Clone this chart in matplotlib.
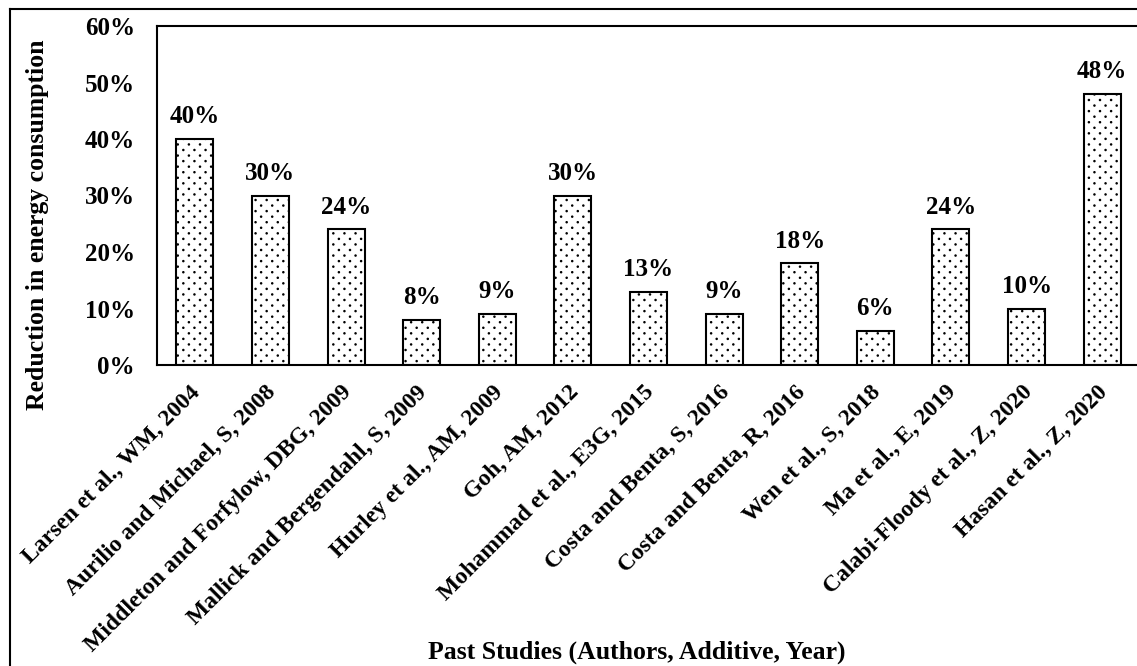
import matplotlib
matplotlib.use("Agg")
import numpy as np
import matplotlib.pyplot as plt
import matplotlib.hatch as mhatch
import matplotlib.transforms as mtransforms
from matplotlib.lines import Line2D
from matplotlib.path import Path
from matplotlib.ticker import PercentFormatter

studies = [
    "Larsen et al., WM, 2004",
    "Aurilio and Michael, S, 2008",
    "Middleton and Forfylow, DBG, 2009",
    "Mallick and Bergendahl, S, 2009",
    "Hurley et al., AM, 2009",
    "Goh, AM, 2012",
    "Mohammad et al., E3G, 2015",
    "Costa and Benta, S, 2016",
    "Costa and Benta, R, 2016",
    "Wen et al., S, 2018",
    "Ma et al., E, 2019",
    "Calabi-Floody et al., Z, 2020",
    "Hasan et al., Z, 2020",
]
reduction = [40, 30, 24, 8, 9, 30, 13, 9, 18, 6, 24, 10, 48]
y_ticks = [0, 10, 20, 30, 40, 50, 60]


class StaggeredDots(mhatch.HatchPatternBase):
    """Small filled dots on a staggered grid (used for the '.' hatch)."""
    rows = 18
    cols = 9
    radius = 0.0055

    def __init__(self, hatch, density):
        circle = Path.unit_circle()
        self.shape_vertices = circle.vertices * self.radius
        self.shape_codes = circle.codes
        centers = []
        if hatch.count('.'):
            for i in range(self.rows + 1):
                yc = i / self.rows
                shift = 0.5 / self.cols if i % 2 else 0.0
                for j in range(self.cols + 1):
                    xc = j / self.cols + shift
                    if xc <= 1.0:
                        centers.append((xc, yc))
        self.centers = centers
        self.num_vertices = len(centers) * len(self.shape_vertices)

    def set_vertices_and_codes(self, vertices, codes):
        n = len(self.shape_vertices)
        for k, (cx, cy) in enumerate(self.centers):
            vertices[k * n:(k + 1) * n] = self.shape_vertices + np.array([cx, cy])
            codes[k * n:(k + 1) * n] = self.shape_codes


mhatch._hatch_types = [t for t in mhatch._hatch_types
                       if t is not mhatch.SmallFilledCircles] + [StaggeredDots]

plt.rcParams["font.family"] = ["Liberation Serif", "DejaVu Serif"]
plt.rcParams["font.weight"] = "bold"
plt.rcParams["hatch.linewidth"] = 1.0

fig = plt.figure(figsize=(11.37, 6.66), dpi=100)
ax = fig.add_axes([157 / 1137, 1 - 365 / 666, (1140 - 157) / 1137, (365 - 26) / 666])

x = list(range(len(studies)))
ax.bar(x, reduction, width=0.49, color="white", edgecolor="black",
       linewidth=1.5, hatch=".")
for xi, v in zip(x, reduction):
    ax.annotate(f"{v}%", (xi, v), xytext=(0, 16), textcoords="offset points",
                ha="center", va="center", fontsize=18, fontweight="bold")

ax.set_xlim(-0.5, len(studies) - 0.5)
ax.set_ylim(0, 60)
ax.set_yticks(y_ticks)
ax.yaxis.set_major_formatter(PercentFormatter(decimals=0))
ax.set_xticks(x)
ax.set_xticklabels(studies, rotation=45, ha="right", rotation_mode="anchor",
                   fontsize=17, fontweight="bold")
ax.tick_params(axis="x", length=0, labelsize=17, pad=12)
ax.tick_params(axis="y", length=0, labelsize=18, pad=16)
shift = mtransforms.ScaledTranslation(-5 / 100, 0, fig.dpi_scale_trans)
for lab in ax.get_xticklabels():
    lab.set_transform(lab.get_transform() + shift)
for lab in ax.get_yticklabels():
    lab.set_fontweight("bold")
for side in ["left", "bottom", "top", "right"]:
    ax.spines[side].set_linewidth(1.5)

fig.text(38 / 1137, 1 - 225 / 666, "Reduction in energy consumption",
         rotation=90, ha="center", va="center", fontsize=18.5, fontweight="bold")
fig.text(637 / 1137, 1 - 652 / 666, "Past Studies (Authors, Additive, Year)",
         ha="center", va="center", fontsize=18.5, fontweight="bold")

# outer border
fig.add_artist(Line2D([10 / 1137, 1.0], [1 - 9 / 666, 1 - 9 / 666],
                      transform=fig.transFigure, color="black", linewidth=1.5))
fig.add_artist(Line2D([10 / 1137, 10 / 1137], [1 - 9 / 666, 0.0],
                      transform=fig.transFigure, color="black", linewidth=1.5))

fig.savefig("out.png", dpi=100)
